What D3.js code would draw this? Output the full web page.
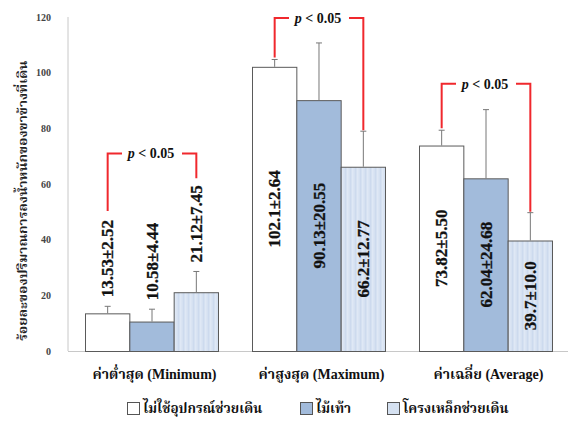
<!DOCTYPE html>
<html>
<head>
<meta charset="utf-8">
<script src="https://cdn.jsdelivr.net/npm/d3@7"></script>
<style>
  html, body { margin: 0; padding: 0; background: #fff; }
  svg { display: block; }
</style>
</head>
<body>
<svg id="chart" width="568" height="421"></svg>
<script>
// Measures of weight bearing (mean ± SD) by walking aid
const categories = ["ค่าต่ำสุด (Minimum)", "ค่าสูงสุด (Maximum)", "ค่าเฉลี่ย (Average)"];
const seriesNames = ["ไม่ใช้อุปกรณ์ช่วยเดิน", "ไม้เท้า", "โครงเหล็กช่วยเดิน"];
const meanNone = [13.53, 102.1, 73.82];
const sdNone = [2.52, 2.64, 5.50];
const meanCane = [10.58, 90.13, 62.04];
const sdCane = [4.44, 20.55, 24.68];
const meanWalker = [21.12, 66.2, 39.7];
const sdWalker = [7.45, 12.77, 10.0];
const labelNone = ["13.53±2.52", "102.1±2.64", "73.82±5.50"];
const labelCane = ["10.58±4.44", "90.13±20.55", "62.04±24.68"];
const labelWalker = ["21.12±7.45", "66.2±12.77", "39.7±10.0"];
// significance bracket (no aid vs walker) level on the value axis
const bracketLevel = [71, 119.6, 96];
const pText = "p < 0.05";
const yTicks = [0, 20, 40, 60, 80, 100, 120];
const yTitle = "ร้อยละของปริมาณการลงน้ำหนักของขาข้างที่เดิน";

const series = [
  { name: seriesNames[0], mean: meanNone, sd: sdNone, label: labelNone, fill: "#ffffff" },
  { name: seriesNames[1], mean: meanCane, sd: sdCane, label: labelCane, fill: "#a2bbdb" },
  { name: seriesNames[2], mean: meanWalker, sd: sdWalker, label: labelWalker, fill: "url(#stripes)" }
];

const svg = d3.select("#chart");
const serif = "'Liberation Serif', 'Times New Roman', serif";
const thai = "'Noto Serif Thai', 'Noto Sans Thai', 'Noto Sans', sans-serif";

// striped fill for the walker bars
const defs = svg.append("defs");
const pat = defs.append("pattern")
  .attr("id", "stripes").attr("patternUnits", "userSpaceOnUse")
  .attr("width", 5).attr("height", 10);
pat.append("rect").attr("width", 5).attr("height", 10).attr("fill", "#d5e1f1");
pat.append("rect").attr("x", 0).attr("width", 1.5).attr("height", 10).attr("fill", "#dfe8f5");
pat.append("rect").attr("x", 3).attr("width", 1).attr("height", 10).attr("fill", "#cddaee");

const x0 = d3.scaleBand().domain(categories).range([68, 569])
  .paddingInner(0.2036).paddingOuter(0.1018);
const x1 = d3.scaleBand().domain(seriesNames).range([0, x0.bandwidth()]);
const y = d3.scaleLinear().domain([0, 120]).range([351, 17]);

// axes lines
svg.append("line").attr("x1", 68).attr("x2", 68).attr("y1", y(120)).attr("y2", y(0))
  .attr("stroke", "#c8c8c8").attr("stroke-width", 1);
svg.append("line").attr("x1", 68).attr("x2", 568).attr("y1", y(0) + 0.5).attr("y2", y(0) + 0.5)
  .attr("stroke", "#c8c8c8").attr("stroke-width", 1);

// y tick labels
const yAxis = d3.axisLeft(y).tickValues(yTicks).tickSize(0).tickPadding(0);
const yg = svg.append("g").attr("transform", "translate(51,0)").call(yAxis);
yg.select(".domain").remove();
yg.selectAll("text").attr("font-family", serif).attr("font-weight", "bold")
  .attr("font-size", 10).attr("fill", "#444");

// y title
const yTitleEl = svg.append("text")
  .attr("transform", `translate(27,${y(54)}) rotate(-90)`)
  .attr("text-anchor", "middle")
  .attr("font-family", thai).attr("font-weight", "bold").attr("font-size", 13)
  .attr("fill", "#222").text(yTitle);
// keep the title at its set length
yTitleEl.attr("textLength", 280).attr("lengthAdjust", "spacingAndGlyphs");

// bars
const groups = svg.append("g").selectAll("g").data(categories).join("g")
  .attr("transform", d => `translate(${x0(d)},0)`);

series.forEach((s, si) => {
  groups.append("rect")
    .attr("x", x1(s.name) + 0.5)
    .attr("y", (d, i) => y(s.mean[i]) + 0.5)
    .attr("width", x1.bandwidth())
    .attr("height", (d, i) => y(0) - y(s.mean[i]))
    .attr("fill", s.fill)
    .attr("stroke", "#5a5a5a").attr("stroke-width", 1);
});

// error bars (upper)
series.forEach(s => {
  const cx = x1(s.name) + x1.bandwidth() / 2 + 0.5;
  groups.append("line")
    .attr("x1", cx).attr("x2", cx)
    .attr("y1", (d, i) => y(s.mean[i]))
    .attr("y2", (d, i) => y(s.mean[i] + s.sd[i]))
    .attr("stroke", "#777").attr("stroke-width", 1);
  groups.append("line")
    .attr("x1", cx - 3).attr("x2", cx + 3)
    .attr("y1", (d, i) => y(s.mean[i] + s.sd[i]))
    .attr("y2", (d, i) => y(s.mean[i] + s.sd[i]))
    .attr("stroke", "#777").attr("stroke-width", 1);
});

// value labels: above the error bar when the bar is short, otherwise centred inside
const labelTop = categories.map(() => ({}));
series.forEach(s => {
  const cx = x1(s.name) + x1.bandwidth() / 2 + 0.5;
  groups.append("text")
    .attr("font-family", serif).attr("font-weight", "bold").attr("font-size", 17)
    .attr("fill", "#111")
    .attr("stroke", "#111").attr("stroke-width", 0.3)
    .attr("dominant-baseline", "central")
    .each(function (d, i) {
      const t = d3.select(this).text(s.label[i]);
      const len = this.getComputedTextLength();
      let cy;
      if (s.mean[i] < 30) {
        cy = y(s.mean[i] + s.sd[i]) - 9 - len / 2;
      } else {
        cy = (y(s.mean[i]) + y(0)) / 2;
      }
      labelTop[i][s.name] = cy - len / 2;
      t.attr("text-anchor", "middle")
        .attr("transform", `translate(${cx},${cy}) rotate(-90)`);
    });
});

// significance brackets between no-aid and walker bars
groups.each(function (d, i) {
  const g = d3.select(this);
  const a = series[0], b = series[2];
  const xa = x1(a.name) + x1.bandwidth() / 2 + 0.5;
  const xb = x1(b.name) + x1.bandwidth() / 2 + 0.5;
  const endA = a.mean[i] < 30 ? labelTop[i][a.name] - 9 : y(a.mean[i] + a.sd[i]) - 2;
  const endB = b.mean[i] < 30 ? labelTop[i][b.name] - 7 : y(b.mean[i] + b.sd[i]) - 1;
  const top = y(bracketLevel[i]);
  const mid = (xa + xb) / 2;
  const gap = 30;
  const path = d3.path();
  path.moveTo(xa, endA); path.lineTo(xa, top); path.lineTo(mid - gap, top);
  path.moveTo(mid + gap, top); path.lineTo(xb, top); path.lineTo(xb, endB);
  g.append("path").attr("d", path.toString())
    .attr("fill", "none").attr("stroke", "#f0282d").attr("stroke-width", 2);
  const t = g.append("text").attr("x", mid - 1).attr("y", top + 5)
    .attr("text-anchor", "middle")
    .attr("font-family", serif).attr("font-weight", "bold").attr("font-size", 14)
    .attr("fill", "#111");
  t.append("tspan").attr("font-style", "italic").text(pText.slice(0, 1));
  t.append("tspan").text(pText.slice(1));
});

// category labels
svg.append("g").selectAll("text").data(categories).join("text")
  .attr("x", d => x0(d) + x0.bandwidth() / 2 + 3)
  .attr("y", 379)
  .attr("text-anchor", "middle")
  .attr("font-family", `'Liberation Serif', ${thai}`).attr("font-weight", "bold").attr("font-size", 14)
  .attr("fill", "#111")
  .text(d => d);

// legend
const legendX = [127, 300, 387];
const legend = svg.append("g").selectAll("g").data(series).join("g")
  .attr("transform", (d, i) => `translate(${legendX[i]},402)`);
legend.append("rect").attr("x", 0.5).attr("y", 0.5).attr("width", 12).attr("height", 12)
  .attr("fill", d => d.fill === "url(#stripes)" ? "#d5e1f1" : d.fill)
  .attr("stroke", "#555");
legend.append("text").attr("x", 16).attr("y", 11)
  .attr("font-family", thai).attr("font-weight", "bold").attr("font-size", 13.5)
  .attr("fill", "#111").text(d => d.name);
</script>
</body>
</html>
